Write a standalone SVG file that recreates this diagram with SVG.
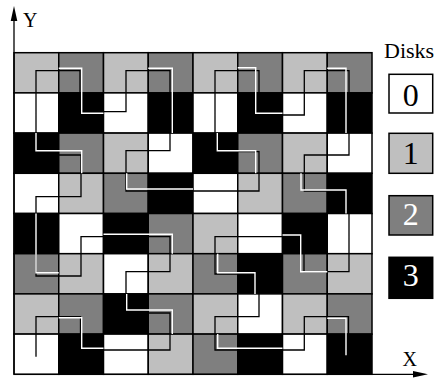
<svg xmlns="http://www.w3.org/2000/svg" width="439" height="380" viewBox="0 0 439 380">
<style>
.L{fill:#bfbfbf}.D{fill:#7f7f7f}.B{fill:#000}.W{fill:#fff}
.cell{stroke:#000;stroke-width:1.5}
.lbl{font-family:"Liberation Serif","Times New Roman",serif;fill:#000}
.curveB{fill:none;stroke:#000;stroke-width:1.3;stroke-linejoin:miter}
.curveW{fill:none;stroke:#fff;stroke-width:1.4;stroke-linejoin:miter}
.axis{stroke:#000;stroke-width:1.3;fill:none}
</style>
<defs>
<clipPath id="dark">
<rect x="58.75" y="52.7" width="44.75" height="80.4"/>
<rect x="148.25" y="52.7" width="44.75" height="80.4"/>
<rect x="237.75" y="52.7" width="44.75" height="80.4"/>
<rect x="327.25" y="52.7" width="44.75" height="80.4"/>
<rect x="14" y="133.1" width="89.5" height="40.2"/>
<rect x="193" y="133.1" width="89.5" height="40.2"/>
<rect x="103.5" y="173.3" width="89.5" height="40.2"/>
<rect x="282.5" y="173.3" width="89.5" height="40.2"/>
<rect x="14" y="213.5" width="44.75" height="40.2"/>
<rect x="103.5" y="213.5" width="89.5" height="40.2"/>
<rect x="282.5" y="213.5" width="44.75" height="40.2"/>
<rect x="14" y="253.7" width="44.75" height="40.2"/>
<rect x="193" y="253.7" width="134.25" height="40.2"/>
<rect x="58.75" y="293.9" width="134.25" height="40.2"/>
<rect x="327.25" y="293.9" width="44.75" height="40.2"/>
<rect x="58.75" y="334.1" width="44.75" height="40.2"/>
<rect x="193" y="334.1" width="89.5" height="40.2"/>
<rect x="327.25" y="334.1" width="44.75" height="40.2"/>
</clipPath>
</defs>
<rect width="439" height="380" fill="#fff"/>
<g id="grid" class="cell">
<rect class="L" x="14" y="52.7" width="44.75" height="40.2"/><rect class="D" x="58.75" y="52.7" width="44.75" height="40.2"/><rect class="L" x="103.5" y="52.7" width="44.75" height="40.2"/><rect class="D" x="148.25" y="52.7" width="44.75" height="40.2"/><rect class="L" x="193" y="52.7" width="44.75" height="40.2"/><rect class="D" x="237.75" y="52.7" width="44.75" height="40.2"/><rect class="L" x="282.5" y="52.7" width="44.75" height="40.2"/><rect class="D" x="327.25" y="52.7" width="44.75" height="40.2"/>
<rect class="W" x="14" y="92.9" width="44.75" height="40.2"/><rect class="B" x="58.75" y="92.9" width="44.75" height="40.2"/><rect class="W" x="103.5" y="92.9" width="44.75" height="40.2"/><rect class="B" x="148.25" y="92.9" width="44.75" height="40.2"/><rect class="W" x="193" y="92.9" width="44.75" height="40.2"/><rect class="B" x="237.75" y="92.9" width="44.75" height="40.2"/><rect class="W" x="282.5" y="92.9" width="44.75" height="40.2"/><rect class="B" x="327.25" y="92.9" width="44.75" height="40.2"/>
<rect class="B" x="14" y="133.1" width="44.75" height="40.2"/><rect class="D" x="58.75" y="133.1" width="44.75" height="40.2"/><rect class="L" x="103.5" y="133.1" width="44.75" height="40.2"/><rect class="W" x="148.25" y="133.1" width="44.75" height="40.2"/><rect class="B" x="193" y="133.1" width="44.75" height="40.2"/><rect class="D" x="237.75" y="133.1" width="44.75" height="40.2"/><rect class="L" x="282.5" y="133.1" width="44.75" height="40.2"/><rect class="W" x="327.25" y="133.1" width="44.75" height="40.2"/>
<rect class="W" x="14" y="173.3" width="44.75" height="40.2"/><rect class="L" x="58.75" y="173.3" width="44.75" height="40.2"/><rect class="D" x="103.5" y="173.3" width="44.75" height="40.2"/><rect class="B" x="148.25" y="173.3" width="44.75" height="40.2"/><rect class="W" x="193" y="173.3" width="44.75" height="40.2"/><rect class="L" x="237.75" y="173.3" width="44.75" height="40.2"/><rect class="D" x="282.5" y="173.3" width="44.75" height="40.2"/><rect class="B" x="327.25" y="173.3" width="44.75" height="40.2"/>
<rect class="B" x="14" y="213.5" width="44.75" height="40.2"/><rect class="W" x="58.75" y="213.5" width="44.75" height="40.2"/><rect class="B" x="103.5" y="213.5" width="44.75" height="40.2"/><rect class="D" x="148.25" y="213.5" width="44.75" height="40.2"/><rect class="L" x="193" y="213.5" width="44.75" height="40.2"/><rect class="W" x="237.75" y="213.5" width="44.75" height="40.2"/><rect class="B" x="282.5" y="213.5" width="44.75" height="40.2"/><rect class="W" x="327.25" y="213.5" width="44.75" height="40.2"/>
<rect class="D" x="14" y="253.7" width="44.75" height="40.2"/><rect class="L" x="58.75" y="253.7" width="44.75" height="40.2"/><rect class="W" x="103.5" y="253.7" width="44.75" height="40.2"/><rect class="L" x="148.25" y="253.7" width="44.75" height="40.2"/><rect class="D" x="193" y="253.7" width="44.75" height="40.2"/><rect class="B" x="237.75" y="253.7" width="44.75" height="40.2"/><rect class="D" x="282.5" y="253.7" width="44.75" height="40.2"/><rect class="L" x="327.25" y="253.7" width="44.75" height="40.2"/>
<rect class="L" x="14" y="293.9" width="44.75" height="40.2"/><rect class="D" x="58.75" y="293.9" width="44.75" height="40.2"/><rect class="B" x="103.5" y="293.9" width="44.75" height="40.2"/><rect class="D" x="148.25" y="293.9" width="44.75" height="40.2"/><rect class="L" x="193" y="293.9" width="44.75" height="40.2"/><rect class="W" x="237.75" y="293.9" width="44.75" height="40.2"/><rect class="L" x="282.5" y="293.9" width="44.75" height="40.2"/><rect class="D" x="327.25" y="293.9" width="44.75" height="40.2"/>
<rect class="W" x="14" y="334.1" width="44.75" height="40.2"/><rect class="B" x="58.75" y="334.1" width="44.75" height="40.2"/><rect class="W" x="103.5" y="334.1" width="44.75" height="40.2"/><rect class="L" x="148.25" y="334.1" width="44.75" height="40.2"/><rect class="D" x="193" y="334.1" width="44.75" height="40.2"/><rect class="B" x="237.75" y="334.1" width="44.75" height="40.2"/><rect class="W" x="282.5" y="334.1" width="44.75" height="40.2"/><rect class="B" x="327.25" y="334.1" width="44.75" height="40.2"/>
</g>
<g id="connectors">
<path class="curveB" d="M36,356.7 V316.7 H80.5 V350 H170 V313 H126 V271.7 H170 V236.7 H81 V276 H36 V196.7 H81 V155 H36 V70.7 H80 V111.7 H126 V70.7 H170 V150.7 H126 V191 H259 V151.7 H215 V70.7 H259 V115 H304.3 V70.7 H349 V155 H304.3 V191 H349 V271.7 H304 V236.7 H215 V274 H259 V316.7 H215 V350 H304.3 V316.7 H348.5 V355"/>
<path class="curveW" clip-path="url(#dark)" d="M36,340 V317.7 H81.7 V348.3 H172.3 V310 H126.7 V272.7 H172.3 V234.3 H81.7 V272.7 H36 V196.7 H81.7 V150.7 H36 V68.3 H81.7 V113.3 H126 V68.3 H172.3 V150.7 H126.7 V189 H255.7 V150.7 H217.3 V67.7 H255.7 V113.3 H301 V68.3 H346 V155 H301 V190 H346 V271.7 H300.7 V235 H217.7 V272.7 H255 V318.3 H217.7 V348.3 H301 V318.3 H346 V355.3"/>
</g>
<g id="axes">
<path class="axis" d="M14,374.3 V19"/>
<path d="M14,6 L17.3,21 L10.7,21 Z" fill="#000"/>
<text class="lbl" x="23" y="26.7" font-size="20">Y</text>
<path class="axis" d="M14,374.3 H414"/>
<path d="M428,374.3 L413,371 L413,377.6 Z" fill="#000"/>
<text class="lbl" x="402.5" y="365.7" font-size="20">X</text>
</g>
<g id="legend">
<text class="lbl" x="384" y="58" font-size="22">Disks</text>
<g id="disk0"><rect x="389" y="74.3" width="43.7" height="38.7" fill="#fff" stroke="#000" stroke-width="1.5"/><text class="lbl" x="410.8" y="106" font-size="32" text-anchor="middle">0</text></g>
<g id="disk1"><rect x="389" y="133.3" width="43.7" height="40" fill="#bfbfbf" stroke="#000" stroke-width="1.5"/><text class="lbl" x="410.8" y="163.5" font-size="32" text-anchor="middle">1</text></g>
<g id="disk2"><rect x="389" y="195.7" width="43.7" height="39.3" fill="#7f7f7f" stroke="#000" stroke-width="1.5"/><text class="lbl" x="410.8" y="224.5" font-size="32" text-anchor="middle" fill="#fff" style="fill:#fff">2</text></g>
<g id="disk3"><rect x="389" y="257.3" width="43.7" height="41" fill="#000" stroke="#000" stroke-width="1.5"/><text class="lbl" x="410.8" y="286" font-size="32" text-anchor="middle" style="fill:#fff">3</text></g>
</g>
</svg>
